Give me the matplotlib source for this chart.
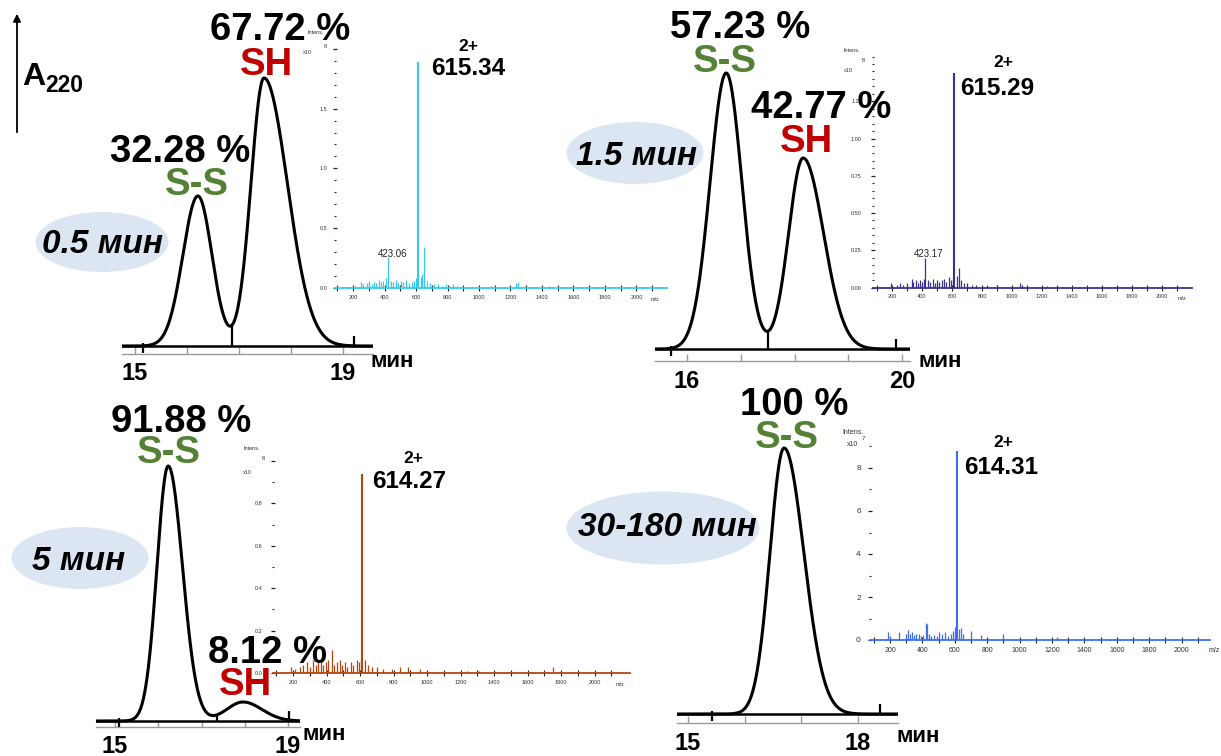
import numpy as np
import matplotlib
matplotlib.use("Agg")
from matplotlib import pyplot as plt
from matplotlib.patches import Ellipse, FancyArrowPatch

W, H = 1221, 756
plt.rcParams['font.family'] = ['Liberation Sans', 'DejaVu Sans']

GREEN = '#548235'
RED = '#c00000'
BUBBLE = '#dce6f2'

# ---- HPLC traces: retention time (min), peak height (a.u.), left/right peak width (min)
rt_05 = [16.21, 17.48]
h_05 = [150, 268]
wl_05 = [0.29, 0.25]
wr_05 = [0.27, 0.45]
marks_05 = [15.15, 19.21]      # integration start / end
drop_05 = [16.87]              # valley drop line

rt_15 = [16.73, 18.16]
h_15 = [276, 191]
wl_15 = [0.30, 0.27]
wr_15 = [0.29, 0.38]
marks_15 = [15.70, 19.89]
drop_15 = [17.51]

rt_5 = [16.23, 17.96]
h_5 = [255, 19]
wl_5 = [0.26, 0.38]
wr_5 = [0.33, 0.44]
marks_5 = [15.09, 19.02]
drop_5 = [17.36]

rt_30 = [16.70]
h_30 = [266]
wl_30 = [0.25]
wr_30 = [0.35]
marks_30 = [15.42, 18.40]
drop_30 = []

# ---- ESI-MS spectra: m/z and intensity
mz_05 = [615.34, 650, 423.06, 185, 215, 248, 262, 290, 303, 318, 333, 348, 362,
         377, 392, 408, 440, 455, 470, 488, 503, 520, 538,
         553, 572, 590, 602, 630, 640, 668, 690, 712, 738,
         762, 790, 812, 835, 862, 1078, 1232, 1245, 1290, 1442]
int_05 = [1.89, 0.34, 0.26, 0.01, 0.02, 0.05, 0.03, 0.04, 0.06, 0.03, 0.05, 0.04, 0.07,
          0.05, 0.06, 0.08, 0.06, 0.05, 0.07, 0.04, 0.06, 0.05, 0.07,
          0.04, 0.05, 0.06, 0.08, 0.09, 0.12, 0.06, 0.04, 0.03, 0.03,
          0.02, 0.03, 0.02, 0.03, 0.02, 0.02, 0.04, 0.05, 0.02, 0.02]

mz_15 = [615.29, 648, 423.17, 195, 232, 250, 275, 300, 330, 342, 358, 372, 388,
         402, 412, 440, 455, 470, 485, 500, 515, 530, 548,
         562, 578, 592, 605, 632, 662, 680, 700, 730, 760,
         830, 900, 1055, 1065, 1235]
int_15 = [1.44, 0.13, 0.20, 0.03, 0.02, 0.03, 0.02, 0.03, 0.06, 0.04, 0.05, 0.03, 0.05,
          0.04, 0.06, 0.05, 0.04, 0.06, 0.03, 0.05, 0.04, 0.05, 0.06,
          0.04, 0.07, 0.05, 0.06, 0.08, 0.05, 0.03, 0.03, 0.02, 0.02,
          0.02, 0.02, 0.03, 0.02, 0.01]

mz_5 = [614.27, 430, 190, 212, 240, 262, 285, 300, 318, 335, 350, 365,
        380, 395, 410, 445, 460, 478, 495, 510, 525, 545,
        560, 580, 595, 605, 632, 650, 672, 700, 740, 790,
        840, 885, 960, 1240, 1310, 1750]
int_5 = [0.94, 0.11, 0.03, 0.02, 0.03, 0.04, 0.05, 0.03, 0.06, 0.04, 0.05, 0.07,
         0.04, 0.05, 0.06, 0.04, 0.05, 0.06, 0.04, 0.05, 0.03, 0.05,
         0.04, 0.06, 0.05, 0.07, 0.06, 0.04, 0.03, 0.03, 0.02, 0.02,
         0.03, 0.03, 0.02, 0.01, 0.01, 0.03]

mz_30 = [614.31, 190, 200, 258, 298, 310, 322, 335, 350, 362, 378,
         392, 405, 420, 428, 440, 455, 470, 490, 505, 522,
         540, 558, 575, 590, 602, 628, 640, 652, 698, 760,
         900, 1230]
int_30 = [8.8, 0.35, 0.2, 0.35, 0.3, 0.45, 0.3, 0.35, 0.25, 0.3, 0.3,
          0.2, 0.25, 0.8, 0.75, 0.3, 0.2, 0.25, 0.2, 0.35, 0.3,
          0.35, 0.2, 0.3, 0.4, 0.6, 0.5, 0.55, 0.3, 0.4, 0.25,
          0.3, 0.15]

mz_ticks = [200, 400, 600, 800, 1000, 1200, 1400, 1600, 1800, 2000]
mz_minor = [100, 300, 500, 700, 900, 1100, 1300, 1500, 1700, 1900, 2100]

fig = plt.figure(figsize=(W / 100, H / 100), dpi=100)


def rect(x0, x1, ytop, ybot):
    # pixel box -> figure fraction
    return [x0 / W, 1 - ybot / H, (x1 - x0) / W, (ybot - ytop) / H]


def ftext(x, y, s, **kw):
    fig.text(x / W, 1 - y / H, s, **kw)


def trace(t, rt, h, wl, wr):
    y = np.zeros_like(t)
    for r, hh, a, b in zip(rt, h, wl, wr):
        s = np.where(t < r, a, b)
        y = y + hh * np.exp(-0.5 * ((t - r) / s) ** 2)
    return y


def chromatogram(box, xlim, ylim, ticks, labels, rt, h, wl, wr, marks, drop, pad):
    ax = fig.add_axes(rect(*box))
    ax.patch.set_visible(False)
    t = np.linspace(xlim[0], xlim[1], 900)
    ax.plot(t, trace(t, rt, h, wl, wr), color='black', lw=2.2, zorder=3)
    ax.axhline(0, color='black', lw=1.8, zorder=2)
    ax.vlines(marks[0], -7, 3, color='black', lw=1.6)
    ax.vlines(marks[1], 0, 10, color='black', lw=1.6)
    if drop:
        ax.vlines(drop, 0, trace(np.array(drop), rt, h, wl, wr), color='black', lw=1.6)
    ax.set_xlim(xlim)
    ax.set_ylim(ylim)
    for s in ['top', 'right', 'left']:
        ax.spines[s].set_visible(False)
    ax.spines['bottom'].set_color('#9a9a9a')
    ax.spines['bottom'].set_linewidth(1.0)
    ax.set_yticks([])
    ax.set_xticks(ticks)
    ax.set_xticklabels(labels, fontsize=17, fontweight='bold')
    ax.tick_params(axis='x', direction='in', length=5, width=1, color='#9a9a9a', pad=pad)
    return ax


def spectrum(box, xlim, ylim, mz, inten, color, ymaj, ylab, ymin, ysize, xsize, ypad):
    ax = fig.add_axes(rect(*box))
    ax.patch.set_visible(False)
    ax.vlines(mz[0], 0, inten[0], color=color, lw=1.5)
    ax.vlines(mz[1:], 0, inten[1:], color=color, lw=0.9)
    ax.set_xlim(xlim)
    ax.set_ylim(ylim)
    for s in ['top', 'right', 'left']:
        ax.spines[s].set_visible(False)
    ax.spines['bottom'].set_color(color)
    ax.spines['bottom'].set_linewidth(1.3)
    ax.set_xticks(mz_ticks)
    ax.set_xticklabels([str(v) for v in mz_ticks], fontsize=xsize, color='#333333')
    ax.set_xticks(mz_minor, minor=True)
    ax.set_yticks(ymaj)
    ax.set_yticklabels(ylab, fontsize=ysize, color='#333333')
    ax.set_yticks(ymin, minor=True)
    ax.tick_params(axis='x', which='both', direction='inout', length=4, width=0.8,
                   color='#222222', pad=3)
    ax.tick_params(axis='y', which='major', direction='inout', length=3, width=0.9,
                   color='#222222', pad=ypad)
    ax.tick_params(axis='y', which='minor', direction='inout', length=2, width=0.8,
                   color='#222222')
    return ax


# ---------------- HPLC panels
chromatogram((122, 373.2, 0, 354), (14.75, 19.58), (-8, 346),
             [15, 16, 17, 18, 19], ['15', '', '', '', '19'],
             rt_05, h_05, wl_05, wr_05, marks_05, drop_05, 6)
chromatogram((654.75, 910.1, 0, 361), (15.40, 20.15), (-12, 349),
             [16, 17, 18, 19, 20], ['16', '', '', '', '20'],
             rt_15, h_15, wl_15, wr_15, marks_15, drop_15, 6.5)
chromatogram((96, 300.1, 391, 727), (14.56, 19.28), (-6, 330),
             [15, 16, 17, 18, 19], ['15', '', '', '', '19'],
             rt_5, h_5, wl_5, wr_5, marks_5, drop_5, 5.5)
chromatogram((677.3, 898.2, 384, 723), (14.81, 18.72), (-9, 330),
             [15, 16, 17, 18], ['15', '', '', '18'],
             rt_30, h_30, wl_30, wr_30, marks_30, drop_30, 6.5)

# ---------------- MS panels
spectrum((334.9, 667.2, 42.8, 288), (85, 2195), (0, 2.05), mz_05, int_05, '#38c8ec',
         [0, 0.5, 1.0, 1.5, 2.0], ['0.0', '0.5', '1.0', '1.5', ''],
         np.arange(0, 2.01, 0.1), 4, 4, 4)
spectrum((872.95, 1192, 53.6, 287.5), (73, 2200), (0, 1.57), mz_15, int_15, '#3a3290',
         [0, 0.25, 0.5, 0.75, 1.0, 1.25], ['0.00', '0.25', '0.50', '0.75', '1.00', '1.25'],
         np.arange(0, 1.56, 0.05), 4, 4, 6.5)
spectrum((272.9, 629.7, 456.8, 673), (80, 2210), (0, 1.02), mz_5, int_5, '#b4460e',
         [0, 0.2, 0.4, 0.6, 0.8, 1.0], ['0.0', '0.2', '0.4', '0.6', '0.8', ''],
         np.arange(0, 1.01, 0.1), 4, 4, 6)
spectrum((869.9, 1210, 442.2, 640), (76, 2175), (0, 9.2), mz_30, int_30, '#3d6ef0',
         [0, 2, 4, 6, 8], ['0', '2', '4', '6', '8'],
         [1, 3, 5, 7, 9], 6, 5, 5)

# intensity axis headers
small = dict(fontsize=4, color='#333333', ha='center', va='center')
ftext(316, 33, 'Intens.', **small)
ftext(325, 47, '8', **small)
ftext(307, 53, 'x10', **small)
ftext(852, 50, 'Intens.', **small)
ftext(863, 61, '8', **small)
ftext(848, 70, 'x10', **small)
ftext(252, 448, 'Intens.', **small)
ftext(263, 459, '8', **small)
ftext(247, 473, 'x10', **small)
ftext(853, 432, 'Intens.', fontsize=5, color='#333333', ha='center', va='center')
ftext(853, 444, 'x10', fontsize=5, color='#333333', ha='center', va='center')
ftext(863, 438, '7', fontsize=4.5, color='#333333', ha='center', va='center')
ftext(655, 299, 'm/z', **small)
ftext(1182, 298, 'm/z', **small)
ftext(620, 685, 'm/z', **small)
ftext(1214, 650, 'm/z', fontsize=5, color='#333333', ha='center', va='center')

# MS peak annotations
big = dict(fontsize=17.5, fontweight='bold', ha='center', va='baseline')
chg = dict(fontsize=12.5, fontweight='bold', ha='center', va='baseline')
ftext(468, 51, '2+', **chg)
ftext(468, 75, '615.34', **big)
ftext(1003, 67, '2+', **chg)
ftext(997, 95, '615.29', **big)
ftext(413, 463, '2+', **chg)
ftext(409, 488, '614.27', **big)
ftext(1003, 447, '2+', **chg)
ftext(1001, 474, '614.31', **big)
ftext(393, 257, '423.06', fontsize=7, ha='center', va='baseline', color='#222222')
ftext(929, 257, '423.17', fontsize=7, ha='center', va='baseline', color='#222222')

# ---------------- peak labels
pct = dict(fontsize=27.5, fontweight='bold', ha='center', va='baseline', color='black')
ftext(280, 40, '67.72 %', **pct)
ftext(266, 75, 'SH', fontsize=27.5, fontweight='bold', ha='center', va='baseline', color=RED)
ftext(180, 162, '32.28 %', **pct)
ftext(197, 195, 'S-S', fontsize=27.5, fontweight='bold', ha='center', va='baseline', color=GREEN)
ftext(740, 38, '57.23 %', **pct)
ftext(725, 72, 'S-S', fontsize=27.5, fontweight='bold', ha='center', va='baseline', color=GREEN)
ftext(821, 118, '42.77 %', **pct)
ftext(806, 152, 'SH', fontsize=27.5, fontweight='bold', ha='center', va='baseline', color=RED)
ftext(181, 432, '91.88 %', **pct)
ftext(169, 463, 'S-S', fontsize=27.5, fontweight='bold', ha='center', va='baseline', color=GREEN)
ftext(267, 663, '8.12 %', **pct)
ftext(245, 695, 'SH', fontsize=27.5, fontweight='bold', ha='center', va='baseline', color=RED)
ftext(794, 415, '100 %', **pct)
ftext(787, 448, 'S-S', fontsize=27.5, fontweight='bold', ha='center', va='baseline', color=GREEN)

# time axis units
unit = dict(fontsize=16, fontweight='bold', ha='left', va='baseline')
ftext(371, 367, 'мин', **unit)
ftext(918, 367, 'мин', **unit)
ftext(303, 740, 'мин', **unit)
ftext(897, 742, 'мин', **unit)

# ---------------- reaction time bubbles
bubbles = [((102, 242), 133, 60, '0.5 мин', (103, 253)),
           ((635, 153), 137, 62, '1.5 мин', (637, 165)),
           ((80, 558), 137, 62, '5 мин', (79, 570)),
           ((663, 528), 193, 73, '30-180 мин', (667, 536))]
for (cx, cy), bw, bh, label, (tx, ty) in bubbles:
    fig.add_artist(Ellipse((cx / W, 1 - cy / H), bw / W, bh / H,
                           transform=fig.transFigure, facecolor=BUBBLE, edgecolor='none', zorder=1))
    ftext(tx, ty, label, fontsize=24, fontweight='bold', fontstyle='italic',
          ha='center', va='baseline', zorder=4)

# ---------------- A220 axis arrow
fig.add_artist(FancyArrowPatch((17 / W, 1 - 135 / H), (17 / W, 1 - 11 / H),
                               transform=fig.transFigure, arrowstyle='-|>',
                               mutation_scale=11, lw=1.3, color='black'))
ftext(22, 85, 'A', fontsize=23, fontweight='bold', ha='left', va='baseline')
ftext(45, 92, '220', fontsize=16.5, fontweight='bold', ha='left', va='baseline')

fig.savefig('out.png', dpi=100)
